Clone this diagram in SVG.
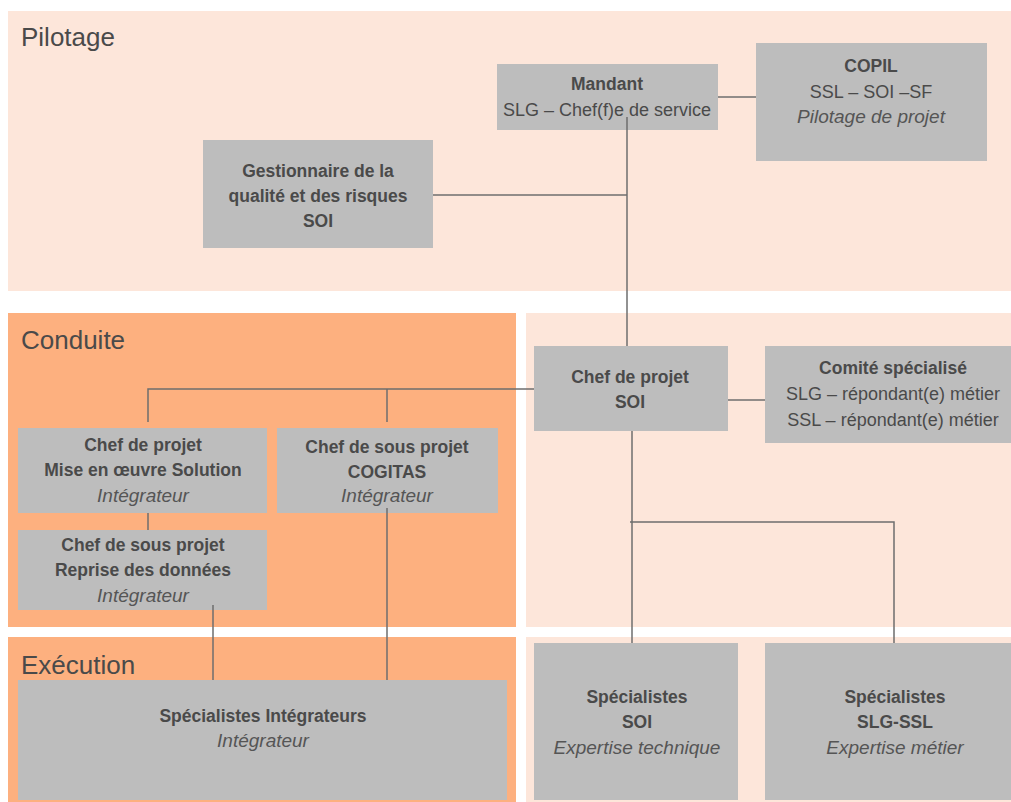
<svg xmlns="http://www.w3.org/2000/svg" width="1011" height="802" viewBox="0 0 1011 802">
<style>
.light{fill:#FDE6DA}
.orange{fill:#FDB07F}
.box{fill:#BDBDBD}
.band{font-family:"Liberation Sans",Arial,sans-serif;font-size:26px;fill:#4a4a4a}
.t{font-family:"Liberation Sans",Arial,sans-serif;fill:#4a4a4a;text-anchor:middle}
.b{font-weight:bold;font-size:17.5px}
.r{font-size:18px}
.i{font-style:italic;font-size:19px;fill:#555}
.c{stroke:#6e6e6e;stroke-width:1.5;fill:none}
</style>
<rect width="1011" height="802" fill="#ffffff"/>
<g id="bands">
<rect class="light" x="8" y="11" width="1003" height="280"/>
<rect class="orange" x="8" y="313" width="508" height="314"/>
<rect class="light" x="526" y="313" width="485" height="314"/>
<rect class="orange" x="8" y="637" width="508" height="165"/>
<rect class="light" x="526" y="637" width="485" height="165"/>
<text class="band" x="21" y="46">Pilotage</text>
<text class="band" x="21" y="349">Conduite</text>
<text class="band" x="21" y="674">Exécution</text>
</g>
<g id="mandant">
<rect class="box" x="497" y="64" width="221" height="66"/>
<text class="t b" x="607" y="90">Mandant</text>
<text class="t r" x="607" y="116">SLG – Chef(f)e de service</text>
</g>
<g id="copil">
<rect class="box" x="756" y="43" width="231" height="118"/>
<text class="t b" x="871" y="72">COPIL</text>
<text class="t r" x="871" y="98">SSL – SOI –SF</text>
<text class="t i" x="871" y="123">Pilotage de projet</text>
</g>
<g id="gestionnaire">
<rect class="box" x="203" y="140" width="230" height="108"/>
<text class="t b" x="318" y="177">Gestionnaire de la</text>
<text class="t b" x="318" y="202">qualité et des risques</text>
<text class="t b" x="318" y="227">SOI</text>
</g>
<g id="chef-soi">
<rect class="box" x="534" y="346" width="194" height="85"/>
<text class="t b" x="630" y="383">Chef de projet</text>
<text class="t b" x="630" y="408">SOI</text>
</g>
<g id="comite">
<rect class="box" x="765" y="346" width="246" height="97"/>
<text class="t b" x="893" y="374">Comité spécialisé</text>
<text class="t r" x="893" y="400">SLG – répondant(e) métier</text>
<text class="t r" x="893" y="426">SSL – répondant(e) métier</text>
</g>
<g id="chef-solution">
<rect class="box" x="18" y="428" width="249" height="85"/>
<text class="t b" x="143" y="451">Chef de projet</text>
<text class="t b" x="143" y="476">Mise en œuvre Solution</text>
<text class="t i" x="143" y="502">Intégrateur</text>
</g>
<g id="chef-cogitas">
<rect class="box" x="277" y="428" width="221" height="85"/>
<text class="t b" x="387" y="453">Chef de sous projet</text>
<text class="t b" x="387" y="478">COGITAS</text>
<text class="t i" x="387" y="502">Intégrateur</text>
</g>
<g id="chef-reprise">
<rect class="box" x="18" y="530" width="249" height="80"/>
<text class="t b" x="143" y="551">Chef de sous projet</text>
<text class="t b" x="143" y="576">Reprise des données</text>
<text class="t i" x="143" y="602">Intégrateur</text>
</g>
<g id="spec-integrateurs">
<rect class="box" x="18" y="680" width="489" height="120"/>
<text class="t b" x="263" y="722">Spécialistes Intégrateurs</text>
<text class="t i" x="263" y="747">Intégrateur</text>
</g>
<g id="spec-soi">
<rect class="box" x="534" y="643" width="204" height="157"/>
<text class="t b" x="637" y="703">Spécialistes</text>
<text class="t b" x="637" y="728">SOI</text>
<text class="t i" x="637" y="754">Expertise technique</text>
</g>
<g id="spec-slg-ssl">
<rect class="box" x="765" y="643" width="246" height="157"/>
<text class="t b" x="895" y="703">Spécialistes</text>
<text class="t b" x="895" y="728">SLG-SSL</text>
<text class="t i" x="895" y="754">Expertise métier</text>
</g>
<g id="connectors">
<path class="c" d="M718 97H756"/>
<path class="c" d="M627 117V346"/>
<path class="c" d="M433 195H627"/>
<path class="c" d="M534 389H148V422"/>
<path class="c" d="M387 389V422"/>
<path class="c" d="M148 513V530"/>
<path class="c" d="M213 605V680"/>
<path class="c" d="M387 508V680"/>
<path class="c" d="M728 400H765"/>
<path class="c" d="M632 431V643"/>
<path class="c" d="M630 522H894V643"/>
</g>
</svg>
